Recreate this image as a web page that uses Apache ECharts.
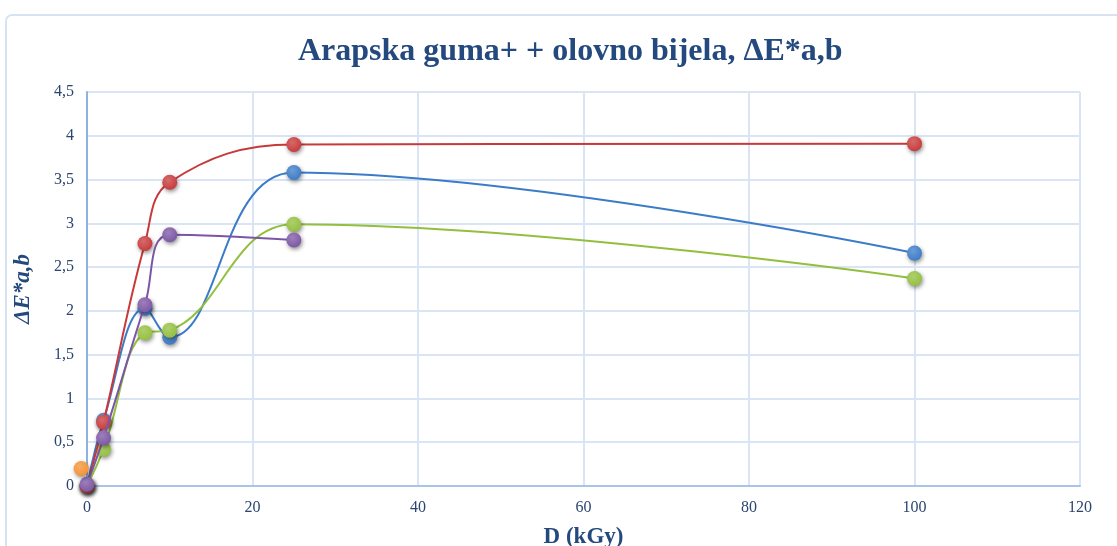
<!DOCTYPE html>
<html>
<head>
<meta charset="utf-8">
<script src="https://cdn.jsdelivr.net/npm/echarts@6/dist/echarts.min.js"></script>
<style>html,body{margin:0;padding:0;background:#fff;}#c{width:1117px;height:546px;}</style>
</head>
<body>
<div id="c"></div>
<script>
const doses = [0, 2, 7, 10, 25, 100];
const redVals = [0, 0.73, 2.77, 3.47, 3.90, 3.91];
const blueVals = [0, 0.75, 2.03, 1.70, 3.58, 2.66];
const greenVals = [0, 0.42, 1.75, 1.78, 2.99, 2.37];
const purpleDoses = [0, 2, 7, 10, 25];
const purpleVals = [0.02, 0.55, 2.07, 2.87, 2.81];
const orangeDoses = [-0.7];
const orangeVals = [0.2];
const xTicks = [0, 20, 40, 60, 80, 100, 120];
const yTicks = ['0', '0,5', '1', '1,5', '2', '2,5', '3', '3,5', '4', '4,5'];

const chart = echarts.init(document.getElementById('c'));
const serif = '"Liberation Serif", "DejaVu Serif", serif';
const txt = '#2b4570';

function pairs(xs, ys) { return xs.map((x, i) => [x, ys[i]]); }
function mk(name, color, xs, ys, z) {
  return {
    name, type: 'line', smooth: 0.4, clip: false, z: z,
    data: pairs(xs, ys),
    symbol: 'circle', symbolSize: 15,
    lineStyle: { color: color, width: 2 },
    itemStyle: {
      color: {
        type: 'radial', x: 0.4, y: 0.35, r: 0.7,
        colorStops: [{ offset: 0, color: echarts.color.lift(color, 0.25) }, { offset: 1, color: color }]
      },
      shadowBlur: 4, shadowColor: 'rgba(0,0,0,0.45)', shadowOffsetX: 1, shadowOffsetY: 2
    }
  };
}

chart.setOption({
  animation: false,
  backgroundColor: '#fff',
  graphic: [{
    type: 'rect', shape: { x: 6, y: 15, width: 1140, height: 580, r: 6 },
    style: { fill: 'none', stroke: '#d7e3f2', lineWidth: 2 }, silent: true, z: -10
  }],
  title: {
    text: 'Arapska guma+ + olovno bijela, ΔE*a,b',
    left: 293, top: 31,
    textStyle: { fontFamily: serif, fontWeight: 'bold', fontSize: 32, color: '#24497e' }
  },
  grid: { left: 87, right: 37, top: 92, bottom: 60, outerBoundsMode: 'none', containLabel: false },
  xAxis: {
    type: 'value', min: 0, max: 120, interval: 20,
    name: 'D (kGy)', nameLocation: 'middle', nameGap: 40,
    nameTextStyle: { fontFamily: serif, fontWeight: 'bold', fontSize: 23, color: '#24497e' },
    axisLine: { show: true, onZero: false, lineStyle: { color: '#a9c4e6', width: 2 } },
    axisTick: { show: false },
    axisLabel: { fontFamily: serif, fontSize: 16, color: txt, margin: 14,
      formatter: v => String(xTicks[xTicks.indexOf(v)] ?? v) },
    splitLine: { show: true, lineStyle: { color: '#d9e5f4', width: 2 } }
  },
  yAxis: {
    type: 'value', min: 0, max: 4.5, interval: 0.5,
    name: 'ΔE*a,b', nameLocation: 'middle', nameGap: 52,
    nameTextStyle: { fontFamily: serif, fontWeight: 'bold', fontStyle: 'italic', fontSize: 23, color: '#24497e' },
    axisLine: { show: true, lineStyle: { color: '#8db3e2', width: 2 } },
    axisTick: { show: false },
    axisLabel: { fontFamily: serif, fontSize: 16, color: txt, margin: 13,
      formatter: v => yTicks[Math.round(v / 0.5)] },
    splitLine: { show: true, lineStyle: { color: '#d9e5f4', width: 2 } }
  },
  series: [
    mk('Blue', '#3b7bc8', doses, blueVals, 3),
    mk('Red', '#c8393a', doses, redVals, 4),
    mk('Green', '#93bf3e', doses, greenVals, 3),
    mk('Purple', '#7c56a4', purpleDoses, purpleVals, 5),
    mk('Orange', '#f39233', orangeDoses, orangeVals, 6)
  ]
});
</script>
</body>
</html>
